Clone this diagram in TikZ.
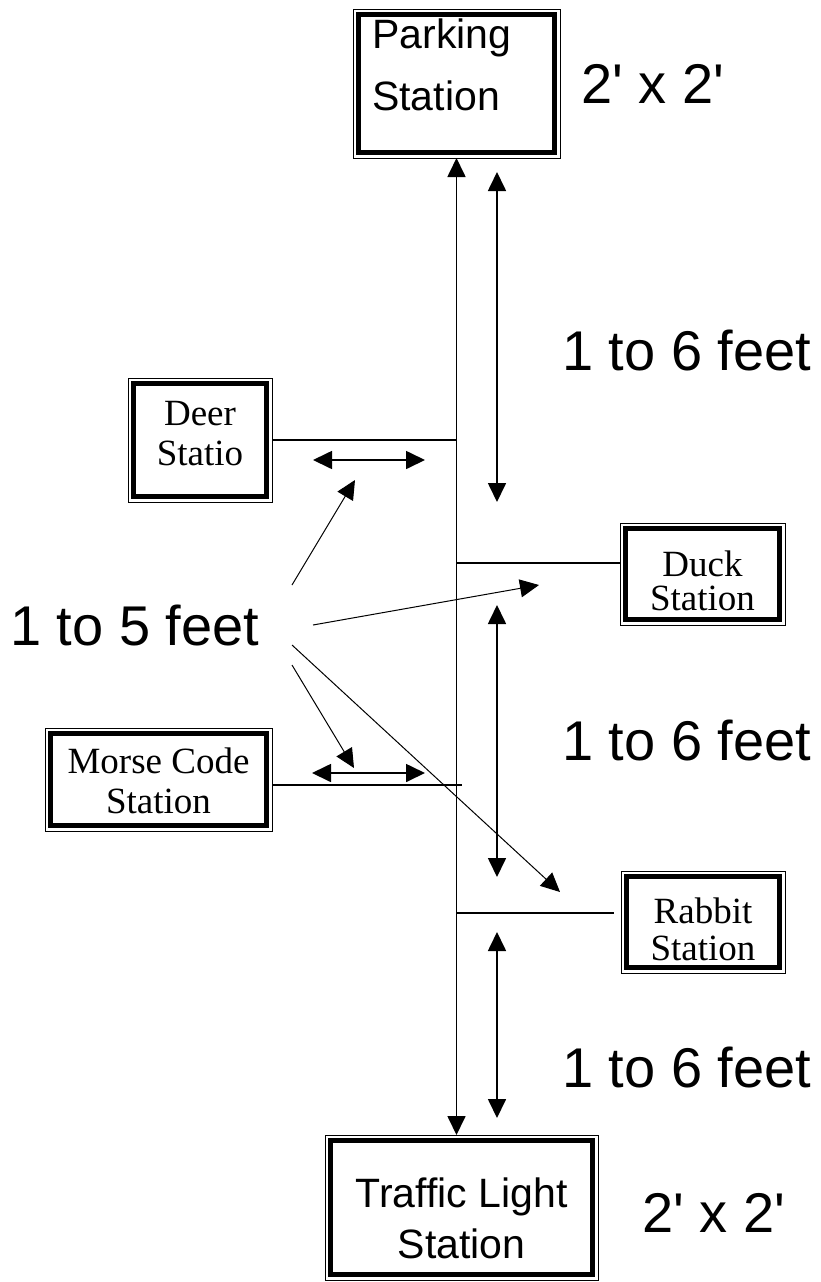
\documentclass[tikz,border=0pt]{standalone}
\usepackage{fontspec}
\setmainfont{Liberation Sans}
\newfontfamily\serifface{Liberation Serif}
\usetikzlibrary{arrows.meta}
\begin{document}
\begin{tikzpicture}[x=1pt,y=-1pt,
  station/.style={draw, line width=1pt, rectangle, inner sep=0pt, outer sep=0pt},
  bigtext/.style={font=\fontsize{41}{48}\selectfont, inner sep=0pt},
  dimtext/.style={font=\fontsize{56}{66}\selectfont, anchor=base west, inner sep=0pt},
  stext/.style={font=\serifface\fontsize{37}{40}\selectfont, anchor=base, inner sep=0pt},
  headtip/.tip={Triangle[length=19pt,width=18pt]},
  spine/.style={line width=1.7pt, headtip-headtip},
  branch/.style={line width=1.3pt},
  dimarrow/.style={line width=1.7pt, headtip-headtip},
  pointer/.style={line width=1pt, -headtip}]
\useasboundingbox (0,0) rectangle (820,1282);
\fill[white] (0,0) rectangle (820,1282);

% station boxes
\node[station, minimum width=207pt, minimum height=149pt] (parking) at (456.5,83.5) {};
\node[station, minimum width=144pt, minimum height=124pt] (deer) at (200,440) {};
\node[station, minimum width=165pt, minimum height=102pt] (duck) at (702.5,574) {};
\node[station, minimum width=227pt, minimum height=103pt] (morse) at (158.5,779.5) {};
\node[station, minimum width=164pt, minimum height=102pt] (rabbit) at (703,922) {};
\node[station, minimum width=273pt, minimum height=145pt] (traffic) at (461.5,1207.5) {};
\foreach \b in {parking,deer,duck,morse,rabbit,traffic}{
  \draw[line width=5pt] ([shift={(5.5pt,-5.5pt)}]\b.north west) rectangle ([shift={(-5.5pt,5.5pt)}]\b.south east);
}

% box texts
\node[bigtext, anchor=base west] (parkingA) at (372,48) {Parking};
\node[bigtext, anchor=base west] (parkingB) at (372,110) {Station};
\node[bigtext, anchor=base] (trafficA) at (461.5,1207) {Traffic Light};
\node[bigtext, anchor=base] (trafficB) at (461.5,1258) {Station};
\node[stext] (deerA) at (200,425) {Deer};
\node[stext] (deerB) at (200,465) {Statio};
\node[stext] (duckA) at (702.5,576) {Duck};
\node[stext] (duckB) at (702.5,610) {Station};
\node[stext] (morseA) at (158.5,773) {Morse Code};
\node[stext] (morseB) at (158.5,813) {Station};
\node[stext] (rabbitA) at (703,923) {Rabbit};
\node[stext] (rabbitB) at (703,960) {Station};

% labels
\node[dimtext] (sizeA) at (581,103) {2\textquotesingle{} x 2\textquotesingle};
\node[dimtext] (sizeB) at (642,1232) {2\textquotesingle{} x 2\textquotesingle};
\node[dimtext] (sixA) at (562,370) {1 to 6 feet};
\node[dimtext] (sixB) at (562,760) {1 to 6 feet};
\node[dimtext] (sixC) at (562,1087) {1 to 6 feet};
\node[dimtext] (five) at (10,645) {1 to 5 feet};

% spine and branches
\draw[spine] (parking.south) -- (parking.south |- traffic.north);
\draw[branch] (deer.east) -- (parking.south |- deer.east);
\draw[branch] (parking.south |- 0,563) -- (duck.west |- 0,563);
\coordinate (morseend) at (462,785);
\draw[branch] (morse.east |- morseend) -- (morseend);
\coordinate (rabbitend) at (614,913);
\draw[branch] (parking.south |- rabbitend) -- (rabbitend);

% dimension arrows
\coordinate (vA1) at (497,172);  \coordinate (vA2) at (497,502);
\coordinate (vB1) at (497,605);  \coordinate (vB2) at (497,877);
\coordinate (vC1) at (497,932);  \coordinate (vC2) at (497,1118);
\coordinate (hA1) at (313,460);  \coordinate (hA2) at (425,460);
\coordinate (hB1) at (312,773);  \coordinate (hB2) at (425,773);
\draw[dimarrow] (vA1) -- (vA2);
\draw[dimarrow] (vB1) -- (vB2);
\draw[dimarrow] (vC1) -- (vC2);
\draw[dimarrow] (hA1) -- (hA2);
\draw[dimarrow] (hB1) -- (hB2);

% pointers from "1 to 5 feet"
\coordinate (pA1) at (292,585); \coordinate (pA2) at (355,480);
\coordinate (pB1) at (313,625); \coordinate (pB2) at (539,585);
\coordinate (pC1) at (292,645); \coordinate (pC2) at (560,892);
\coordinate (pD1) at (292,665); \coordinate (pD2) at (354,768);
\draw[pointer] (pA1) -- (pA2);
\draw[pointer] (pB1) -- (pB2);
\draw[pointer] (pC1) -- (pC2);
\draw[pointer] (pD1) -- (pD2);
\end{tikzpicture}
\end{document}
